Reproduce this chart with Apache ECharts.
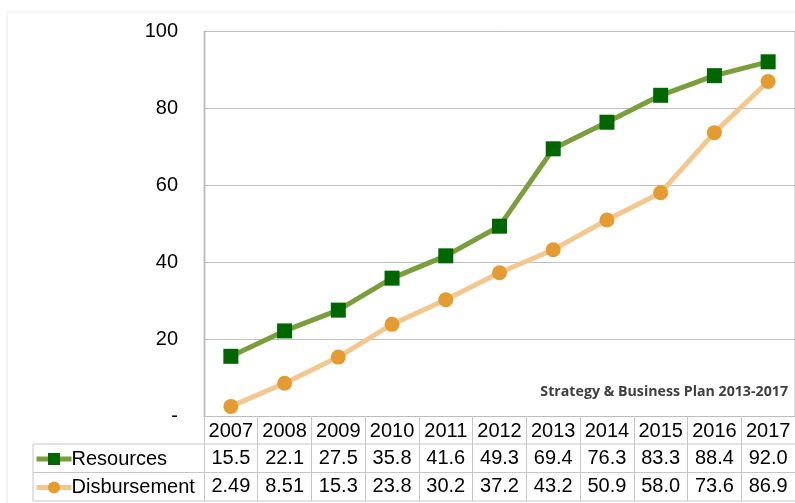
<!DOCTYPE html>
<html>
<head>
<meta charset="utf-8">
<script src="https://cdn.jsdelivr.net/npm/echarts@6/dist/echarts.min.js"></script>
<style>
  html, body { margin: 0; padding: 0; background: #fff; }
  #chart { width: 795px; height: 503px; }
</style>
</head>
<body>
<div id="chart"></div>
<script>
// Yearly figures
const years = ['2007', '2008', '2009', '2010', '2011', '2012', '2013', '2014', '2015', '2016', '2017'];
const resources = [15.5, 22.1, 27.5, 35.8, 41.6, 49.3, 69.4, 76.3, 83.3, 88.4, 92.0];
const disbursement = [2.49, 8.51, 15.3, 23.8, 30.2, 37.2, 43.2, 50.9, 58.0, 73.6, 86.9];
const yTicks = [0, 20, 40, 60, 80, 100];
const planLabel = 'Strategy & Business Plan 2013-2017';
const planStartIndex = years.indexOf('2013');

const FONT = '"Liberation Sans", Arial, sans-serif';
const FONT_SIZE = 20;
const TABLE_LINE = '#c6c6c6';

const chart = echarts.init(document.getElementById('chart'), null, { renderer: 'canvas' });

// table rows under the plot are extra category axes sharing the grid
function rowAxis(offset, values) {
  return {
    type: 'category',
    data: years,
    position: 'bottom',
    offset: offset,
    boundaryGap: true,
    axisLine: { show: false },
    axisTick: { show: false },
    splitLine: { show: false },
    axisLabel: {
      interval: 0,
      margin: 4,
      fontFamily: FONT,
      fontSize: FONT_SIZE,
      color: '#000',
      formatter: (v, i) => values[i].toPrecision(3)
    }
  };
}

const option = {
  animation: false,
  backgroundColor: '#fff',
  grid: { left: 204, top: 31, width: 596, height: 385, containLabel: false },
  title: {
    text: planLabel,
    right: 7,
    top: 385,
    padding: 0,
    textStyle: { fontFamily: '"Open Sans", sans-serif', fontSize: 14.2, fontWeight: 'bold', color: '#404040' }
  },
  legend: {
    data: ['Resources', 'Disbursement'],
    orient: 'vertical',
    left: 34,
    top: 449,
    padding: 0,
    itemGap: 8.5,
    itemWidth: 35,
    itemHeight: 15,
    lineStyle: { width: 5 },
    textStyle: { fontFamily: FONT, fontSize: FONT_SIZE, color: '#000', padding: [0, 0, 0, -5] }
  },
  xAxis: [
    {
      type: 'category',
      data: years,
      position: 'bottom',
      boundaryGap: true,
      axisLine: { show: true, lineStyle: { color: '#bcbcbc', width: 1 } },
      axisTick: { show: true, interval: 0, length: 85, lineStyle: { color: TABLE_LINE, width: 1 } },
      axisLabel: { interval: 0, margin: 5, fontFamily: FONT, fontSize: FONT_SIZE, color: '#000' },
      splitLine: {
        show: true,
        interval: (i) => i === planStartIndex,
        lineStyle: { color: '#404040', width: 1.3 }
      }
    },
    rowAxis(28, resources),
    rowAxis(56.5, disbursement)
  ],
  yAxis: {
    type: 'value',
    min: yTicks[0],
    max: yTicks[yTicks.length - 1],
    interval: 20,
    axisLine: { show: true, lineStyle: { color: '#bcbcbc', width: 1 } },
    axisTick: { show: false },
    splitLine: { show: true, lineStyle: { color: '#c0c0c0', width: 1 } },
    axisLabel: {
      margin: 26,
      fontFamily: FONT,
      fontSize: FONT_SIZE,
      color: '#000',
      formatter: (v) => (v === 0 ? '-' : String(v))
    }
  },
  series: [
    {
      name: 'Disbursement',
      type: 'line',
      xAxisIndex: 0,
      data: disbursement,
      symbol: 'circle',
      symbolSize: 15,
      itemStyle: { color: '#e49b32' },
      lineStyle: { color: '#f2c88e', width: 5 }
    },
    {
      name: 'Resources',
      type: 'line',
      xAxisIndex: 0,
      data: resources,
      symbol: 'rect',
      symbolSize: 15,
      itemStyle: { color: '#006600' },
      lineStyle: { color: '#7a9e3c', width: 5 }
    }
  ],
  graphic: [
    // outer chart frame
    { type: 'rect', shape: { x: 7, y: 12, width: 800, height: 500 }, style: { fill: null, stroke: '#ededed', lineWidth: 1 }, silent: true },
    // data table borders
    { type: 'line', shape: { x1: 33, y1: 444, x2: 800, y2: 444 }, style: { stroke: TABLE_LINE, lineWidth: 1 }, silent: true },
    { type: 'line', shape: { x1: 33, y1: 472.5, x2: 800, y2: 472.5 }, style: { stroke: TABLE_LINE, lineWidth: 1 }, silent: true },
    { type: 'line', shape: { x1: 33, y1: 501, x2: 800, y2: 501 }, style: { stroke: TABLE_LINE, lineWidth: 1 }, silent: true },
    { type: 'line', shape: { x1: 33, y1: 444, x2: 33, y2: 501 }, style: { stroke: TABLE_LINE, lineWidth: 1 }, silent: true }
  ]
};

chart.setOption(option);
</script>
</body>
</html>
